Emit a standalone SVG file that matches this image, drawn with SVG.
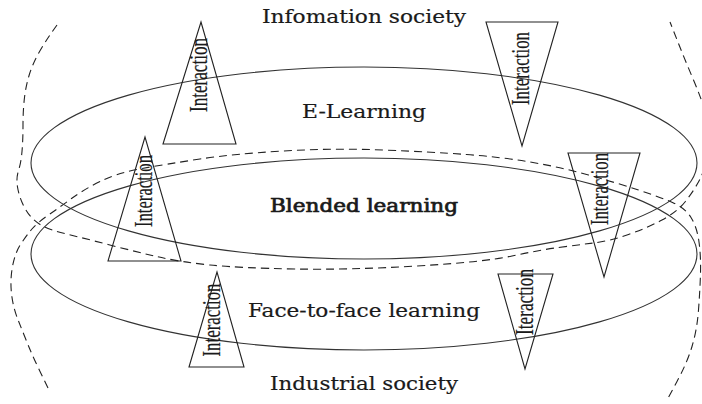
<svg xmlns="http://www.w3.org/2000/svg" width="702" height="404" viewBox="0 0 702 404">
<style>
.ell{fill:none;stroke:#333;stroke-width:1.1}
.dash{fill:none;stroke:#222;stroke-width:1.1;stroke-dasharray:8 5}
.tri{fill:none;stroke:#222;stroke-width:1.1}
.lbl{font-family:"DejaVu Serif","Liberation Serif",serif;font-size:18.5px;fill:#1a1a1a;text-anchor:middle;stroke:#1a1a1a;stroke-width:0.2}
.bold{stroke-width:0.7}
.int{font-family:"Liberation Serif","DejaVu Serif",serif;font-size:26px;fill:#1a1a1a;text-anchor:middle;stroke:#1a1a1a;stroke-width:0.2}
</style>
<rect width="702" height="404" fill="#fff"/>
<g id="regions">
<path id="information-boundary" class="dash" d="M57,25 L51,33.5 Q45,42 39,52.5 Q33,63 29.5,74 Q26,85 24.5,97.5 Q23,110 23,125 Q23,140 22,151.5 Q21,163 18.5,170.5 Q16,178 17.5,187 Q19,196 23,204.5 Q27,213 32,218 Q37,223 43.5,226.5 Q50,230 66.5,234 Q83,238 108,244.5 Q133,251 156.5,256.5 Q180,262 210,265 Q240,268 295,269 Q350,270 417,266 Q484,262 512,256 Q540,250 558.5,247.5 Q577,245 593.5,243 Q610,241 628.5,234.5 Q647,228 662,220 Q677,212 685,202 Q693,192 699,181 Q705,170 708.5,152.5 Q712,135 707,117.5 Q702,100 693.5,80 Q685,60 677.5,41 L670,22"/>
<path id="industrial-boundary" class="dash" d="M48,388 L40.5,372.5 Q33,357 27.5,343.5 Q22,330 17.5,318.5 Q13,307 11.5,293.5 Q10,280 12.5,266.5 Q15,253 20.5,244.5 Q26,236 31.5,229.5 Q37,223 48.5,215 Q60,207 71.5,198.5 Q83,190 100,181.5 Q117,173 142,168.5 Q167,164 200,159 Q233,154 283,151 Q333,148 383,150 Q433,152 466.5,154.5 Q500,157 530,162 Q560,167 588.5,175 Q617,183 638.5,190 Q660,197 672.5,202.5 Q685,208 691,217.5 Q697,227 699,242 Q701,257 700.5,273.5 Q700,290 698.5,310 Q697,330 692,346.5 Q687,363 677,381.5 L667,400"/>
</g>
<g id="e-learning">
<ellipse class="ell" cx="364" cy="163" rx="333" ry="96"/>
<text class="lbl" x="364" y="118" textLength="124" lengthAdjust="spacingAndGlyphs">E-Learning</text>
</g>
<g id="face-to-face">
<ellipse class="ell" cx="364" cy="254" rx="333" ry="96"/>
<text class="lbl" x="364" y="317" textLength="232" lengthAdjust="spacingAndGlyphs">Face-to-face learning</text>
</g>
<g id="blended">
<text class="lbl bold" x="364" y="212" textLength="188" lengthAdjust="spacingAndGlyphs">Blended learning</text>
</g>
<g id="information-society">
<text class="lbl" x="364" y="23" textLength="204" lengthAdjust="spacingAndGlyphs">Infomation society</text>
</g>
<g id="industrial-society">
<text class="lbl" x="364" y="390" textLength="188" lengthAdjust="spacingAndGlyphs">Industrial society</text>
</g>
<g id="interaction1">
<polygon class="tri" points="201,22 163,144 236,144"/>
<text class="int" transform="translate(207,75) rotate(-90)" textLength="74" lengthAdjust="spacingAndGlyphs">Interaction</text>
</g>
<g id="interaction2">
<polygon class="tri" points="486,22 558,22 522,146"/>
<text class="int" transform="translate(529,68.5) rotate(-90)" textLength="73" lengthAdjust="spacingAndGlyphs">Interaction</text>
</g>
<g id="interaction3">
<polygon class="tri" points="145,137 108,261 181,261"/>
<text class="int" transform="translate(152,191) rotate(-90)" textLength="72" lengthAdjust="spacingAndGlyphs">Interaction</text>
</g>
<g id="interaction4">
<polygon class="tri" points="568,153 640,153 604,277"/>
<text class="int" transform="translate(608,189) rotate(-90)" textLength="72" lengthAdjust="spacingAndGlyphs">Interaction</text>
</g>
<g id="interaction5">
<polygon class="tri" points="217,272 189,367 244,367"/>
<text class="int" transform="translate(220,320) rotate(-90)" textLength="73" lengthAdjust="spacingAndGlyphs">Interaction</text>
</g>
<g id="interaction6">
<polygon class="tri" points="498,274 553,274 525,369"/>
<text class="int" transform="translate(533,302) rotate(-90)" textLength="66" lengthAdjust="spacingAndGlyphs">Iteraction</text>
</g>
<g id="connectors"></g>
</svg>
